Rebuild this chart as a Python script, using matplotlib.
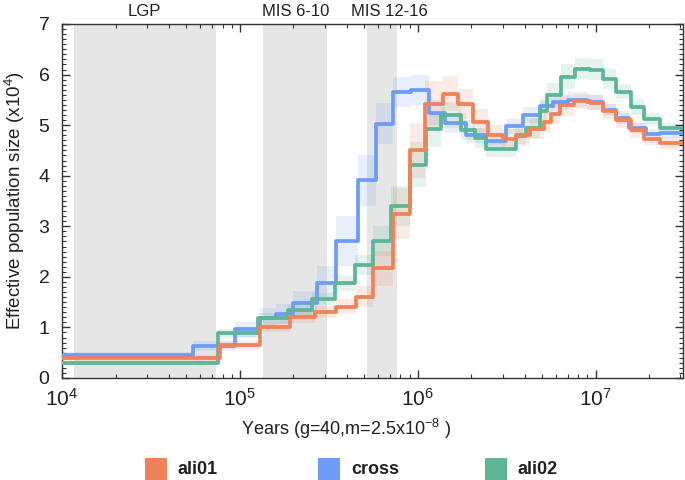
import matplotlib
matplotlib.use("Agg")
import matplotlib.pyplot as plt
from matplotlib.patches import Rectangle

plt.rcParams['font.family'] = ['Liberation Sans', 'DejaVu Sans']
plt.rcParams['mathtext.fontset'] = 'custom'
plt.rcParams['mathtext.rm'] = 'Liberation Sans'
plt.rcParams['mathtext.it'] = 'Liberation Sans'

# PSMC: start of each time interval (years) and Ne (x10^4)
t_ali01 = [1e4, 7.7e4, 1.29e5, 1.91e5, 2.64e5, 3.49e5, 4.52e5, 5.61e5, 7.27e5, 9.0e5,
           1.1e6, 1.39e6, 1.68e6, 2.05e6, 2.48e6, 3.02e6, 3.58e6, 4.26e6, 5.1e6, 5.6e6,
           6.3e6, 7.6e6, 9.25e6, 1.1e7, 1.31e7, 1.59e7, 1.88e7, 2.29e7]
ne_ali01 = [0.40, 0.65, 1.00, 1.21, 1.31, 1.41, 1.61, 2.17, 3.25, 4.50,
            5.42, 5.62, 5.42, 5.07, 4.80, 4.73, 4.80, 4.93, 5.07, 5.23,
            5.39, 5.47, 5.44, 5.27, 5.10, 4.90, 4.73, 4.64]
spread_ali01 = [0.06, 0.08, 0.10, 0.12, 0.12, 0.15, 0.20, 0.35, 0.50, 0.55,
                0.45, 0.35, 0.30, 0.25, 0.20, 0.20, 0.20, 0.20, 0.20, 0.20,
                0.20, 0.15, 0.15, 0.15, 0.15, 0.15, 0.12, 0.12]

t_cross = [1e4, 5.45e4, 9.4e4, 1.29e5, 1.6e5, 2.0e5, 2.7e5, 3.49e5, 4.62e5, 5.86e5,
           7.27e5, 9.22e5, 1.15e6, 1.42e6, 1.88e6, 2.43e6, 3.15e6, 3.91e6, 4.84e6, 5.75e6,
           7.0e6, 9.0e6, 1.1e7, 1.31e7, 1.55e7, 1.93e7, 2.29e7]
ne_cross = [0.45, 0.64, 0.96, 1.18, 1.27, 1.48, 1.87, 2.71, 3.91, 5.03,
            5.66, 5.70, 5.25, 5.05, 4.80, 4.68, 4.98, 5.20, 5.38, 5.45,
            5.50, 5.45, 5.30, 5.15, 4.95, 4.82, 4.85]
spread_cross = [0.06, 0.10, 0.15, 0.20, 0.20, 0.25, 0.35, 0.50, 0.50, 0.40,
                0.30, 0.30, 0.25, 0.20, 0.15, 0.15, 0.15, 0.15, 0.15, 0.15,
                0.15, 0.15, 0.12, 0.12, 0.10, 0.10, 0.10]

t_ali02 = [1e4, 7.55e4, 1.27e5, 1.87e5, 2.53e5, 3.42e5, 4.42e5, 5.61e5, 7.11e5, 9.0e5,
           1.12e6, 1.36e6, 1.75e6, 2.1e6, 2.43e6, 3.58e6, 4.07e6, 4.84e6, 5.3e6, 6.4e6,
           7.7e6, 9.25e6, 1.1e7, 1.31e7, 1.59e7, 1.88e7, 2.29e7]
ne_ali02 = [0.29, 0.88, 1.18, 1.34, 1.57, 1.87, 2.23, 2.71, 3.40, 4.22,
            4.92, 5.20, 4.90, 4.75, 4.52, 4.78, 4.95, 5.27, 5.59, 5.96,
            6.12, 6.10, 5.92, 5.66, 5.36, 5.13, 4.95]
spread_ali02 = [0.04, 0.08, 0.10, 0.12, 0.12, 0.15, 0.20, 0.30, 0.40, 0.45,
                0.35, 0.25, 0.20, 0.20, 0.15, 0.15, 0.20, 0.20, 0.25, 0.25,
                0.20, 0.20, 0.20, 0.15, 0.15, 0.12, 0.10]

# glacial periods shaded
periods = ['LGP', 'MIS 6-10', 'MIS 12-16']
period_start = [1.17e4, 1.35e5, 5.2e5]
period_end = [7.3e4, 3.08e5, 7.6e5]
period_label_x = [2.9e4, 2.05e5, 6.9e5]

names = ['ali01', 'cross', 'ali02']
colors = ['#EF8259', '#6F9CF7', '#5DB695']

x_max = 3.1e7
text_col = '#231F20'

fig = plt.figure(figsize=(6.85, 4.8), dpi=100)
ax = fig.add_axes([62/685, 1 - 378/480, 621/685, 354/480])

for s, e, lx, lab in zip(period_start, period_end, period_label_x, periods):
    ax.axvspan(s, e, color='#E6E6E6', lw=0, zorder=0)
    ax.text(lx, 1.034, lab, transform=ax.get_xaxis_transform(),
            ha='center', va='center', fontsize=12, color=text_col)

series = {
    'cross': (t_cross, ne_cross, spread_cross),
    'ali02': (t_ali02, ne_ali02, spread_ali02),
    'ali01': (t_ali01, ne_ali01, spread_ali01),
}
col = dict(zip(names, colors))

# bootstrap spread as a faint band
for nm in ['cross', 'ali02', 'ali01']:
    t, ne, sp = series[nm]
    xs = t + [4e7]
    lo = [v - d for v, d in zip(ne, sp)] + [ne[-1] - sp[-1]]
    hi = [v + d for v, d in zip(ne, sp)] + [ne[-1] + sp[-1]]
    ax.fill_between(xs, lo, hi, step='post', color=col[nm], alpha=0.16, lw=0, zorder=1)

for nm in ['cross', 'ali02', 'ali01']:
    t, ne, sp = series[nm]
    ax.step(t + [4e7], ne + [ne[-1]], where='post', color=col[nm], lw=2.7, zorder=3)

ax.set_xscale('log')
ax.set_xlim(1e4, x_max)
ax.set_ylim(0, 7)
ax.set_yticks(range(0, 8))
ax.set_yticks([i / 10 for i in range(71)], minor=True)
ax.set_xticks([1e4, 1e5, 1e6, 1e7])
ax.set_xticklabels([r'$10^{4}$', r'$10^{5}$', r'$10^{6}$', r'$10^{7}$'])

ax.tick_params(which='both', direction='in', top=True, right=True, colors='#333333',
               labelcolor=text_col)
ax.tick_params(axis='y', labelsize=14, pad=9)
ax.tick_params(axis='x', labelsize=15, pad=7)
ax.tick_params(which='major', length=6, width=1)
ax.tick_params(which='minor', length=3, width=0.8)
for sp_ in ax.spines.values():
    sp_.set_color('#333333')
    sp_.set_linewidth(1)

ax.set_xlabel(r'Years (g=40,m=2.5x$10^{-8}$ )', fontsize=13, color=text_col)
ax.xaxis.set_label_coords(0.457, -0.11)
ax.set_ylabel(r'Effective population size (x$10^{4}$)', fontsize=13.5, color=text_col)
ax.yaxis.set_label_coords(-0.057, 0.5)

# legend row below the plot
leg_x = [145, 318, 485]
for x0, nm, c in zip(leg_x, names, colors):
    fig.add_artist(Rectangle((x0 / 685, 0), 22 / 685, 22 / 480, transform=fig.transFigure,
                             facecolor=c, edgecolor='none'))
    fig.text((x0 + 33) / 685, 1 - 469 / 480, nm, fontsize=13, fontweight='bold',
             color=text_col, ha='left', va='center')

fig.savefig('out.png', dpi=100)
